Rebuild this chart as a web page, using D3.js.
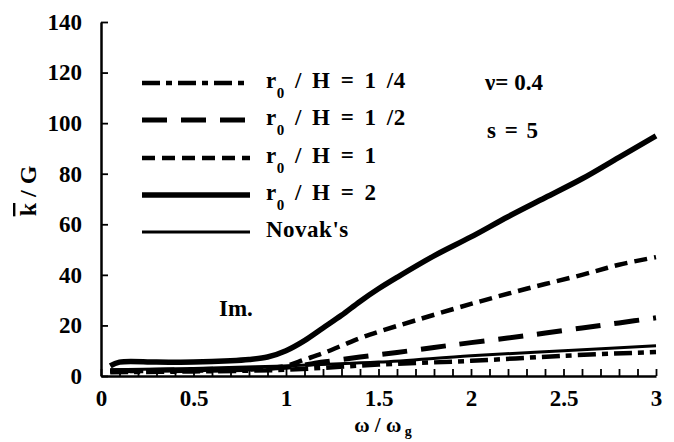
<!DOCTYPE html>
<html>
<head>
<meta charset="utf-8">
<script src="https://cdn.jsdelivr.net/npm/d3@7"></script>
<style>
  body { margin: 0; background: #fff; }
  text { font-family: "Liberation Serif", "Times New Roman", serif; font-weight: bold; fill: #000; }
</style>
</head>
<body>
<svg id="chart"></svg>
<script>
// ------------------------------------------------------------------
//  Im. k/G vs w/wg  (nu = 0.4, s = 5)
// ------------------------------------------------------------------

var width = 674,
    height = 442;

// data
var xR2 = [0.05, 0.1, 0.3, 0.5, 0.7, 0.8, 0.9, 1.0, 1.1, 1.2, 1.3, 1.4, 1.5, 1.6, 1.8, 2.0, 2.2, 2.4, 2.6, 2.8, 3.0];
var yR2 = [4, 5.5, 5.5, 5.5, 6, 6.5, 7.5, 10, 14, 19, 24, 29.5, 34.5, 39, 47.5, 55, 63, 70.5, 78, 86.5, 95];

var xR1 = [0.05, 0.3, 0.6, 0.9, 1.0, 1.1, 1.2, 1.3, 1.4, 1.5, 1.7, 2.0, 2.3, 2.6, 2.8, 3.0];
var yR1 = [2, 2, 2.2, 3, 4, 6.5, 9, 12, 15, 17.5, 22, 28.5, 34.5, 40, 44, 47];

var xRh = [0.05, 0.5, 1.0, 1.2, 1.4, 1.6, 1.8, 2.0, 2.3, 2.6, 2.8, 3.0];
var yRh = [2, 2.5, 3.5, 5.5, 7.5, 9.3, 11.3, 13.2, 16, 19, 21, 23];

var xRq = [0.05, 0.5, 1.0, 1.5, 2.0, 2.5, 3.0];
var yRq = [1.5, 1.8, 2.5, 4.5, 6, 8, 9.5];

var xNovak = [0.05, 0.5, 1.0, 1.5, 2.0, 2.5, 3.0];
var yNovak = [2.5, 3, 4, 5.5, 8, 10, 12];

var yTicks = [0, 20, 40, 60, 80, 100, 120, 140];
var xLabels = ["0", "0.5", "1", "1.5", "2", "2.5", "3"];

var legendNames = ["1 /4", "1 /2", "1", "2"];

var margin = { left: 101, right: 18, top: 22, bottom: 66 };

var x = d3.scaleLinear().domain([0, 3]).range([margin.left, width - margin.right]);
var y = d3.scaleLinear().domain([0, 140]).range([height - margin.bottom, margin.top]);

var svg = d3.select("#chart")
  .attr("width", width)
  .attr("height", height);

svg.append("rect").attr("width", width).attr("height", height).attr("fill", "#fff");

// series styles
var series = [
  { xs: xRq, ys: yRq, w: 4.5, dash: "18,6,6,6" },
  { xs: xRh, ys: yRh, w: 5, dash: "25,14" },
  { xs: xR1, ys: yR1, w: 4.5, dash: "13,7" },
  { xs: xR2, ys: yR2, w: 5.5, dash: null },
  { xs: xNovak, ys: yNovak, w: 3, dash: null }
];

var line = d3.line()
  .x(d => x(d[0]))
  .y(d => y(d[1]))
  .curve(d3.curveCatmullRom.alpha(0.5));

svg.append("g").selectAll("path")
  .data(series)
  .enter()
  .append("path")
    .attr("d", s => line(d3.zip(s.xs, s.ys)))
    .attr("fill", "none")
    .attr("stroke", "#000")
    .attr("stroke-width", s => s.w)
    .attr("stroke-dasharray", s => s.dash);

// axes
var xTickVals = d3.range(0, 31).map(i => i / 10);
var xAxis = d3.axisBottom(x)
  .tickValues(xTickVals)
  .tickSizeInner(-7)
  .tickSizeOuter(0)
  .tickPadding(14)
  .tickFormat((d, i) => (i % 5 === 0 ? xLabels[i / 5] : ""));

var gx = svg.append("g")
  .attr("transform", `translate(0,${y(0)})`)
  .call(xAxis);

var yAxis = d3.axisLeft(y)
  .tickValues(yTicks)
  .tickSizeInner(-7)
  .tickSizeOuter(0)
  .tickPadding(19);

var gy = svg.append("g")
  .attr("transform", `translate(${x(0)},0)`)
  .call(yAxis);

[gx, gy].forEach(g => {
  g.select(".domain").attr("stroke", "#000").attr("stroke-width", 2.5);
  g.selectAll(".tick line").attr("stroke", "#000").attr("stroke-width", 1.8);
  g.selectAll(".tick text")
    .style("font-family", "'Liberation Serif', serif")
    .style("font-weight", "bold")
    .style("font-size", "23px");
});

// axis titles
var xt = svg.append("text")
  .attr("x", 383)
  .attr("y", 432)
  .attr("text-anchor", "middle")
  .style("font-size", "21px");
xt.append("tspan").text("ω / ω");
xt.append("tspan").attr("dy", 4).style("font-size", "14px").text(" g");

var yt = svg.append("text")
  .attr("transform", "translate(36,191) rotate(-90)")
  .attr("text-anchor", "middle")
  .style("font-size", "24px");
yt.append("tspan").style("text-decoration", "overline").text("k");
yt.append("tspan").text(" / G");

// legend
var legendY = [83, 120, 158, 195, 232];
var lg = svg.append("g");
series.forEach((s, i) => {
  lg.append("line")
    .attr("x1", 142).attr("x2", 250)
    .attr("y1", legendY[i]).attr("y2", legendY[i])
    .attr("stroke", "#000")
    .attr("stroke-width", s.w)
    .attr("stroke-dasharray", s.dash);
  var t = lg.append("text")
    .attr("x", 266)
    .attr("y", legendY[i] + 5)
    .style("font-size", "23px")
    .style("word-spacing", "4px")
    .style("letter-spacing", "0.5px");
  if (i < 4) {
    t.append("tspan").text("r");
    t.append("tspan").attr("dy", 10).style("font-size", "15px").text("0");
    t.append("tspan").attr("dy", -10).text(" / H = " + legendNames[i]);
  } else {
    t.text("Novak's");
  }
});

svg.append("text").attr("x", 485).attr("y", 90).style("font-size", "23px").text("ν= 0.4");
svg.append("text").attr("x", 487).attr("y", 138).style("font-size", "23px").style("word-spacing", "3px").text("s = 5");
svg.append("text").attr("x", 219).attr("y", 316).style("font-size", "23px").text("Im.");
</script>
</body>
</html>
